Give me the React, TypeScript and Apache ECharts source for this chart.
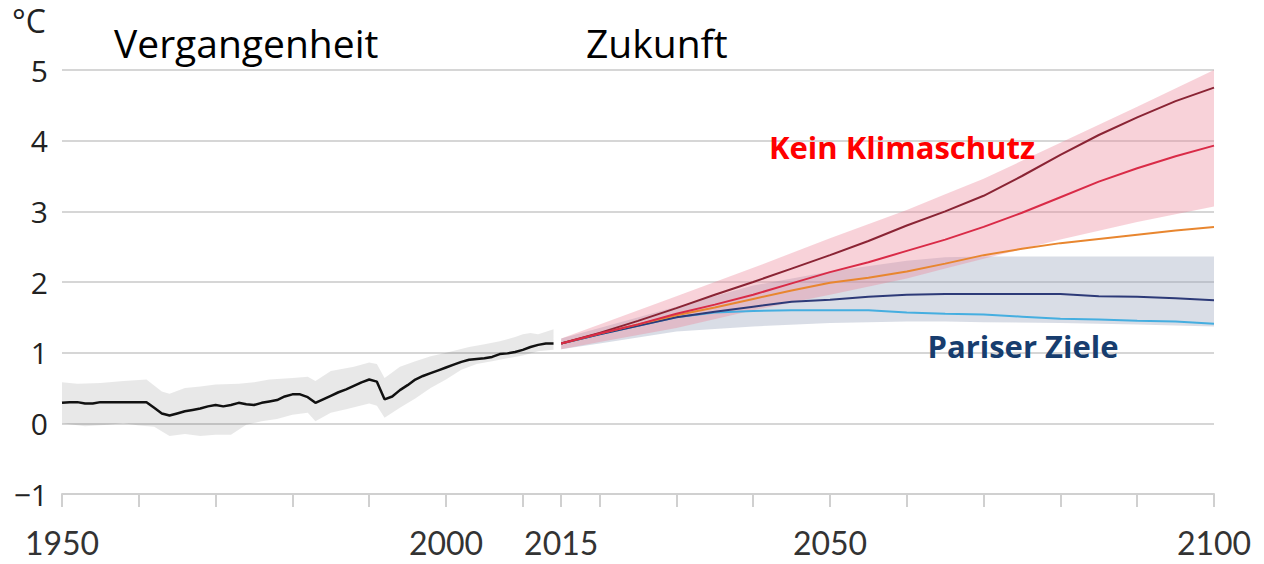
import React, { useEffect, useRef } from "react";
import * as echarts from "echarts";

// ---- Data ----
const HIST_START = 1950;
const histValues = [
  0.29, 0.3, 0.3, 0.28, 0.28, 0.3, 0.3, 0.3, 0.3, 0.3,
  0.3, 0.3, 0.22, 0.14, 0.11, 0.14, 0.17, 0.19, 0.21, 0.24,
  0.26, 0.24, 0.26, 0.29, 0.27, 0.26, 0.29, 0.31, 0.33, 0.38,
  0.41, 0.41, 0.37, 0.29, 0.34, 0.39, 0.44, 0.48, 0.53, 0.58,
  0.62, 0.59, 0.34, 0.38, 0.47, 0.54, 0.62, 0.67, 0.71, 0.75,
  0.79, 0.83, 0.87, 0.9, 0.91, 0.92, 0.94, 0.98, 0.99, 1.01,
  1.04, 1.08, 1.11, 1.13, 1.13,
];

const histBandUpperYears = [1950, 1952, 1955, 1958, 1961, 1963, 1964, 1966, 1968, 1970, 1973, 1975, 1977, 1980, 1982, 1983, 1985, 1988, 1990, 1991, 1992, 1994, 1996, 1998, 2000, 2003, 2005, 2007, 2009, 2010, 2011, 2012, 2014];
const histBandUpper = [0.58, 0.56, 0.57, 0.6, 0.62, 0.45, 0.42, 0.5, 0.52, 0.55, 0.56, 0.58, 0.62, 0.64, 0.66, 0.6, 0.74, 0.8, 0.86, 0.84, 0.64, 0.8, 0.88, 0.95, 1.0, 1.08, 1.12, 1.16, 1.22, 1.26, 1.28, 1.26, 1.33];
const histBandLowerYears = [1950, 1953, 1956, 1958, 1960, 1962, 1964, 1966, 1968, 1970, 1972, 1974, 1976, 1978, 1980, 1982, 1983, 1985, 1987, 1990, 1991, 1992, 1994, 1996, 1998, 2000, 2002, 2004, 2006, 2008, 2010, 2012, 2014];
const histBandLower = [0.0, -0.04, -0.02, 0.0, -0.03, -0.05, -0.18, -0.15, -0.18, -0.16, -0.16, -0.02, 0.03, 0.06, 0.12, 0.15, 0.03, 0.15, 0.2, 0.28, 0.25, 0.08, 0.22, 0.35, 0.5, 0.62, 0.76, 0.84, 0.88, 0.92, 0.96, 1.02, 1.04];

const futureYears = [2015, 2020, 2025, 2030, 2035, 2040, 2045, 2050, 2055, 2060, 2065, 2070, 2075, 2080, 2085, 2090, 2095, 2100];
const ssp585 = [1.13, 1.28, 1.45, 1.63, 1.82, 2.0, 2.19, 2.38, 2.58, 2.8, 3.0, 3.22, 3.5, 3.8, 4.08, 4.33, 4.56, 4.75];
const ssp370 = [1.13, 1.27, 1.4, 1.55, 1.68, 1.82, 1.98, 2.14, 2.28, 2.44, 2.6, 2.78, 2.98, 3.2, 3.42, 3.61, 3.78, 3.93];
const ssp245 = [1.13, 1.27, 1.4, 1.53, 1.64, 1.76, 1.88, 1.99, 2.06, 2.15, 2.26, 2.38, 2.47, 2.55, 2.61, 2.67, 2.73, 2.78];
const ssp126 = [1.13, 1.26, 1.38, 1.5, 1.58, 1.65, 1.72, 1.75, 1.79, 1.82, 1.83, 1.83, 1.83, 1.83, 1.8, 1.79, 1.77, 1.74];
const ssp119 = [1.13, 1.26, 1.38, 1.5, 1.57, 1.59, 1.6, 1.6, 1.6, 1.57, 1.55, 1.54, 1.51, 1.48, 1.47, 1.45, 1.44, 1.41];

const bandYears = [2015, 2020, 2030, 2040, 2050, 2060, 2065, 2070, 2080, 2090, 2100];
const highBandUpper = [1.2, 1.4, 1.8, 2.2, 2.62, 3.02, 3.24, 3.46, 3.97, 4.48, 5.0];
const highBandLower = [1.05, 1.15, 1.35, 1.6, 1.82, 2.05, 2.19, 2.33, 2.6, 2.85, 3.07];
const lowBandUpper = [1.2, 1.35, 1.65, 1.95, 2.15, 2.3, 2.35, 2.36, 2.36, 2.36, 2.36];
const lowBandLower = [1.05, 1.13, 1.3, 1.37, 1.42, 1.44, 1.44, 1.43, 1.42, 1.4, 1.37];

const xTickValues = [1950, 1960, 1970, 1980, 1990, 2000, 2010, 2015, 2020, 2030, 2040, 2050, 2060, 2070, 2080, 2090, 2100];
const xLabelValues = [1950, 2000, 2015, 2050, 2100];

const unitLabel = "°C";
const pastLabel = "Vergangenheit";
const futureLabel = "Zukunft";
const highLabel = "Kein Klimaschutz";
const lowLabel = "Pariser Ziele";

function pairs(xs: number[], ys: number[]) {
  return xs.map((x, i) => [x, ys[i]]);
}

function bandSeries(xsU: number[], hi: number[], xsL: number[], lo: number[], color: string, z: number) {
  return {
    type: "custom",
    silent: true,
    z,
    clip: true,
    data: [[xsU[0], hi[0]]],
    renderItem: (_params: any, api: any) => {
      const pts: number[][] = [];
      for (let i = 0; i < xsU.length; i++) pts.push(api.coord([xsU[i], hi[i]]));
      for (let i = xsL.length - 1; i >= 0; i--) pts.push(api.coord([xsL[i], lo[i]]));
      return { type: "polygon", shape: { points: pts }, style: { fill: color } };
    },
  };
}

function lineSeries(data: number[][], color: string, width: number, z: number) {
  return {
    type: "line",
    data,
    showSymbol: false,
    symbol: "none",
    silent: true,
    z,
    lineStyle: { color, width },
  };
}

export default function App() {
  const ref = useRef<HTMLDivElement>(null);
  useEffect(() => {
    if (!ref.current) return;
    const chart = echarts.init(ref.current, undefined, { renderer: "svg" });
    const histData = histValues.map((v, i) => [HIST_START + i, v]);
    chart.setOption({
      animation: false,
      grid: { left: 62, right: 50, top: 70, bottom: 70, containLabel: false },
      xAxis: {
        type: "value",
        min: 1950,
        max: 2100,
        axisLine: { show: true, onZero: false, lineStyle: { color: "#d0d0d0", width: 2 } },
        axisTick: { show: true, length: 13, customValues: xTickValues, lineStyle: { color: "#d0d0d0", width: 2 } },
        axisLabel: {
          customValues: xLabelValues,
          fontSize: 32,
          fontFamily: "Lato",
          color: "#333",
          margin: 32,
          showMinLabel: true,
          showMaxLabel: true,
          formatter: (v: number) => String(v),
        },
        splitLine: { show: false },
      },
      yAxis: {
        type: "value",
        min: -1,
        max: 5,
        interval: 1,
        axisLine: { show: false },
        axisTick: { show: false },
        axisLabel: {
          fontSize: 30,
          fontFamily: "Open Sans",
          color: "#222",
          margin: 14,
          formatter: (v: number) => (v < 0 ? "\u2212" + Math.abs(v) : String(v)),
        },
        splitLine: { lineStyle: { color: "#d6d6d6", width: 2 } },
      },
      graphic: [
        { type: "text", left: 12, top: 4, style: { text: unitLabel, fontSize: 32, fontFamily: "Open Sans", fill: "#222" } },
        { type: "text", x: 114, y: 42, style: { text: pastLabel, fontSize: 39, fontFamily: "Open Sans", fill: "#000", verticalAlign: "middle" } },
        { type: "text", x: 586, y: 42, style: { text: futureLabel, fontSize: 39, fontFamily: "Open Sans", fill: "#000", verticalAlign: "middle" } },
        { type: "text", x: 902, y: 147, z: 100, style: { text: highLabel, fontSize: 31, fontWeight: "bold", fontFamily: "Open Sans", fill: "#ff0000", align: "center", verticalAlign: "middle" } },
        { type: "text", x: 1023, y: 346, z: 100, style: { text: lowLabel, fontSize: 31, fontWeight: "bold", fontFamily: "Open Sans", fill: "#173d6e", align: "center", verticalAlign: "middle" } },
      ],
      series: [
        bandSeries(histBandUpperYears, histBandUpper, histBandLowerYears, histBandLower, "rgba(0,0,0,0.09)", 1),
        bandSeries(bandYears, lowBandUpper, bandYears, lowBandLower, "rgba(150,160,185,0.36)", 1),
        bandSeries(bandYears, highBandUpper, bandYears, highBandLower, "rgba(235,130,150,0.36)", 2),
        lineSeries(histData, "#111", 2.5, 5),
        lineSeries(pairs(futureYears, ssp119), "#45aee0", 2, 5),
        lineSeries(pairs(futureYears, ssp126), "#2d3a78", 2, 5),
        lineSeries(pairs(futureYears, ssp245), "#e8862f", 2, 5),
        lineSeries(pairs(futureYears, ssp585), "#8a2434", 2, 5),
        lineSeries(pairs(futureYears, ssp370), "#d92b47", 2, 6),
      ],
    });
    return () => chart.dispose();
  }, []);
  return <div ref={ref} style={{ position: "absolute", left: 0, top: 0, width: 1264, height: 564 }} />;
}
